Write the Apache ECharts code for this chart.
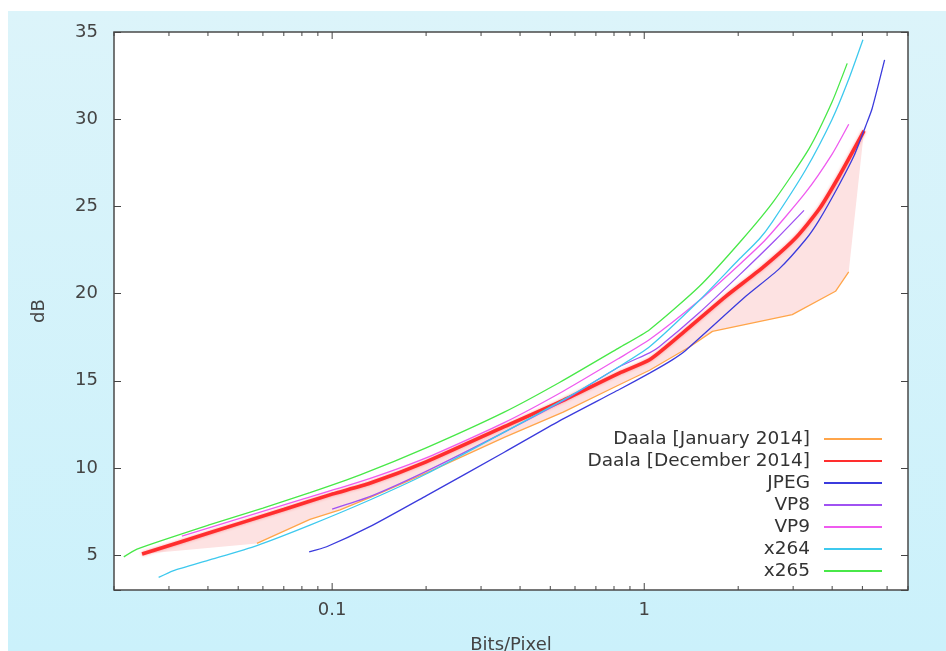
<!DOCTYPE html>
<html>
<head>
<meta charset="utf-8">
<script src="https://cdn.jsdelivr.net/npm/echarts@6/dist/echarts.min.js"></script>
<style>
html, body { margin: 0; padding: 0; background: #fff; }
#chart {
    position: absolute; left: 8px; top: 11px; width: 938px; height: 640px;
    background: linear-gradient(to bottom, #dcf4fa, #cbf1fb);
}
</style>
</head>
<body>
<div id="chart"></div>
<script>
// values: [bits per pixel, dB]
const daalaJan = [
    [0.0574, 5.67], [0.0849, 7.05], [0.106, 7.6], [0.132, 8.3], [0.2, 9.7], [0.356, 11.75],
    [0.55, 13.2], [0.832, 14.77], [1.04, 15.6], [1.4, 16.95], [1.654, 17.83], [2.98, 18.79],
    [4.1, 20.13], [4.52, 21.25]
];
const daalaDec = [
    [0.0246, 5.06], [0.04, 6.25], [0.07, 7.62], [0.1, 8.5], [0.132, 9.12], [0.2, 10.35],
    [0.356, 12.37], [0.55, 13.88], [0.832, 15.44], [1.04, 16.2], [1.3, 17.6], [1.826, 19.84],
    [2.4, 21.5], [3.06, 23.2], [3.63, 24.83], [4.2, 26.7], [5.06, 29.33]
];
const jpeg = [
    [0.0844, 5.19], [0.096, 5.48], [0.132, 6.63], [0.2, 8.4], [0.356, 10.9], [0.535, 12.7],
    [0.832, 14.5], [1.04, 15.44], [1.23, 16.2], [1.36, 16.75], [2.115, 19.84], [2.7, 21.4],
    [3.29, 23.1], [3.63, 24.2], [4.2, 26.2], [4.7, 27.9], [5.12, 29.6], [5.37, 30.6], [5.89, 33.4]
];
const vp8 = [
    [0.1, 7.64], [0.132, 8.35], [0.2, 9.8], [0.356, 12.05], [0.55, 13.85], [0.832, 15.8],
    [1.04, 16.6], [1.117, 16.95], [1.5, 18.9], [2.0, 21.0], [2.64, 23.1], [3.25, 24.77]
];
const vp9 = [
    [0.033, 6.09], [0.05, 7.08], [0.08, 8.2], [0.123, 9.21], [0.2, 10.58], [0.356, 12.6],
    [0.55, 14.4], [0.832, 16.3], [1.04, 17.36], [1.5, 19.6], [2.0, 21.6], [2.45, 23.1],
    [3.29, 25.8], [4.0, 28.0], [4.52, 29.71]
];
const x264 = [
    [0.0278, 3.72], [0.0309, 4.1], [0.04, 4.7], [0.0574, 5.55], [0.0849, 6.72], [0.132, 8.16],
    [0.2, 9.65], [0.356, 12.05], [0.55, 13.9], [0.832, 15.82], [1.04, 16.95], [1.5, 19.6],
    [2.01, 21.95], [2.33, 23.1], [2.57, 24.1], [3.29, 27.1], [4.0, 30.0], [4.5, 32.2], [5.02, 34.56]
];
const x265 = [
    [0.0215, 4.9], [0.0237, 5.35], [0.0406, 6.75], [0.06, 7.7], [0.0849, 8.58], [0.123, 9.6],
    [0.2, 11.15], [0.356, 13.2], [0.535, 14.9], [0.832, 16.9], [1.04, 17.93], [1.5, 20.4],
    [2.06, 23.1], [2.6, 25.3], [3.37, 28.3], [4.0, 31.0], [4.47, 33.2]
];

const seriesNames = ['Daala [January 2014]', 'Daala [December 2014]', 'JPEG', 'VP8', 'VP9', 'x264', 'x265'];
const xMajorTicks = [0.1, 1];
const xMinorTicks = [0.02, 0.03, 0.04, 0.05, 0.06, 0.07, 0.08, 0.09,
    0.2, 0.3, 0.4, 0.5, 0.6, 0.7, 0.8, 0.9, 2, 3, 4, 5, 6, 7];
const xMin = 0.02, xMax = 7;
const yMin = 3, yMax = 35;

const font = 'DejaVu Sans';
const textColor = '#444';

function line(name, data, color, width, smooth) {
    return {
        name: name,
        type: 'line',
        data: data,
        symbol: 'none',
        smooth: smooth,
        z: 3,
        lineStyle: { color: color, width: width },
        itemStyle: { color: color }
    };
}

const chart = echarts.init(document.getElementById('chart'));

const decLine = line(seriesNames[1], daalaDec, '#ff2e2e', 3.6, 0.2);
decLine.lineStyle.shadowBlur = 3;
decLine.lineStyle.shadowColor = 'rgba(255,40,40,0.45)';

chart.setOption({
    animation: false,
    backgroundColor: 'transparent',
    grid: {
        left: 106, right: 38, top: 21, bottom: 61,
        outerBoundsMode: 'none',
        containLabel: false,
        show: true, backgroundColor: '#fff', borderColor: '#4a4a4a', borderWidth: 1.5
    },
    legend: {
        data: seriesNames,
        orient: 'vertical',
        align: 'right',
        right: 63,
        top: 417,
        padding: 0,
        itemWidth: 58,
        itemHeight: 14,
        itemGap: 0,
        selectedMode: false,
        itemStyle: { opacity: 0 },
        textStyle: { fontFamily: font, fontSize: 18.5, color: '#333', lineHeight: 22, padding: [0, 9, 0, 0] }
    },
    xAxis: {
        type: 'log',
        logBase: 10,
        min: xMin,
        max: xMax,
        name: 'Bits/Pixel',
        nameLocation: 'middle',
        nameGap: 46,
        nameTextStyle: { fontFamily: font, fontSize: 18, color: textColor },
        axisLine: { show: false },
        axisTick: { show: false },
        splitLine: { show: false },
        axisLabel: {
            margin: 11, fontFamily: font, fontSize: 18, color: textColor,
            formatter: function (v) {
                const l = Math.log10(v);
                return Math.abs(l - Math.round(l)) < 1e-6 ? String(+v.toPrecision(6)) : '';
            }
        }
    },
    yAxis: [{
        type: 'value',
        min: yMin,
        max: yMax,
        position: 'left',
        name: 'dB',
        nameLocation: 'middle',
        nameGap: 66,
        nameTextStyle: { fontFamily: font, fontSize: 18, color: textColor },
        axisLine: { show: false },
        axisTick: { inside: true, length: 7, lineStyle: { color: textColor } },
        splitLine: { show: false },
        axisLabel: {
            margin: 16, fontFamily: font, fontSize: 18, color: textColor,
            formatter: function (v) { return v % 5 === 0 ? String(v) : ''; }
        }
    }, {
        type: 'value',
        min: yMin,
        max: yMax,
        position: 'right',
        axisLine: { show: false },
        axisTick: { inside: true, length: 7, lineStyle: { color: textColor } },
        splitLine: { show: false },
        axisLabel: { show: false }
    }],
    series: [
        {
            // shaded gap between the two Daala curves
            type: 'custom',
            name: 'gap',
            silent: true,
            z: 1,
            data: [daalaDec[0]],
            renderItem: function (params, api) {
                const pts = daalaDec.concat(daalaJan.slice().reverse()).map(function (p) { return api.coord(p); });
                return { type: 'polygon', shape: { points: pts }, style: { fill: '#fde2e2' } };
            }
        },
        {
            // x ticks (bottom and top, mirrored like gnuplot)
            type: 'custom',
            name: 'xticks',
            silent: true,
            clip: false,
            z: 5,
            data: xMinorTicks.map(function (v) { return [v, 0]; })
                .concat(xMajorTicks.map(function (v) { return [v, 1]; })),
            renderItem: function (params, api) {
                const v = api.value(0);
                const len = api.value(1) ? 7 : 4;
                const b = api.coord([v, yMin]);
                const t = api.coord([v, yMax]);
                const st = { stroke: textColor, lineWidth: 1 };
                return {
                    type: 'group',
                    children: [
                        { type: 'line', shape: { x1: b[0], y1: b[1], x2: b[0], y2: b[1] - len }, style: st },
                        { type: 'line', shape: { x1: t[0], y1: t[1], x2: t[0], y2: t[1] + len }, style: st }
                    ]
                };
            }
        },
        line(seriesNames[0], daalaJan, '#ffa54a', 1.3, false),
        decLine,
        line(seriesNames[2], jpeg, '#3b3bdd', 1.3, 0.2),
        line(seriesNames[3], vp8, '#a052f2', 1.3, 0.2),
        line(seriesNames[4], vp9, '#ef5bef', 1.3, 0.2),
        line(seriesNames[5], x264, '#3ec9ee', 1.3, 0.2),
        line(seriesNames[6], x265, '#48e848', 1.3, 0.2)
    ]
});
</script>
</body>
</html>
